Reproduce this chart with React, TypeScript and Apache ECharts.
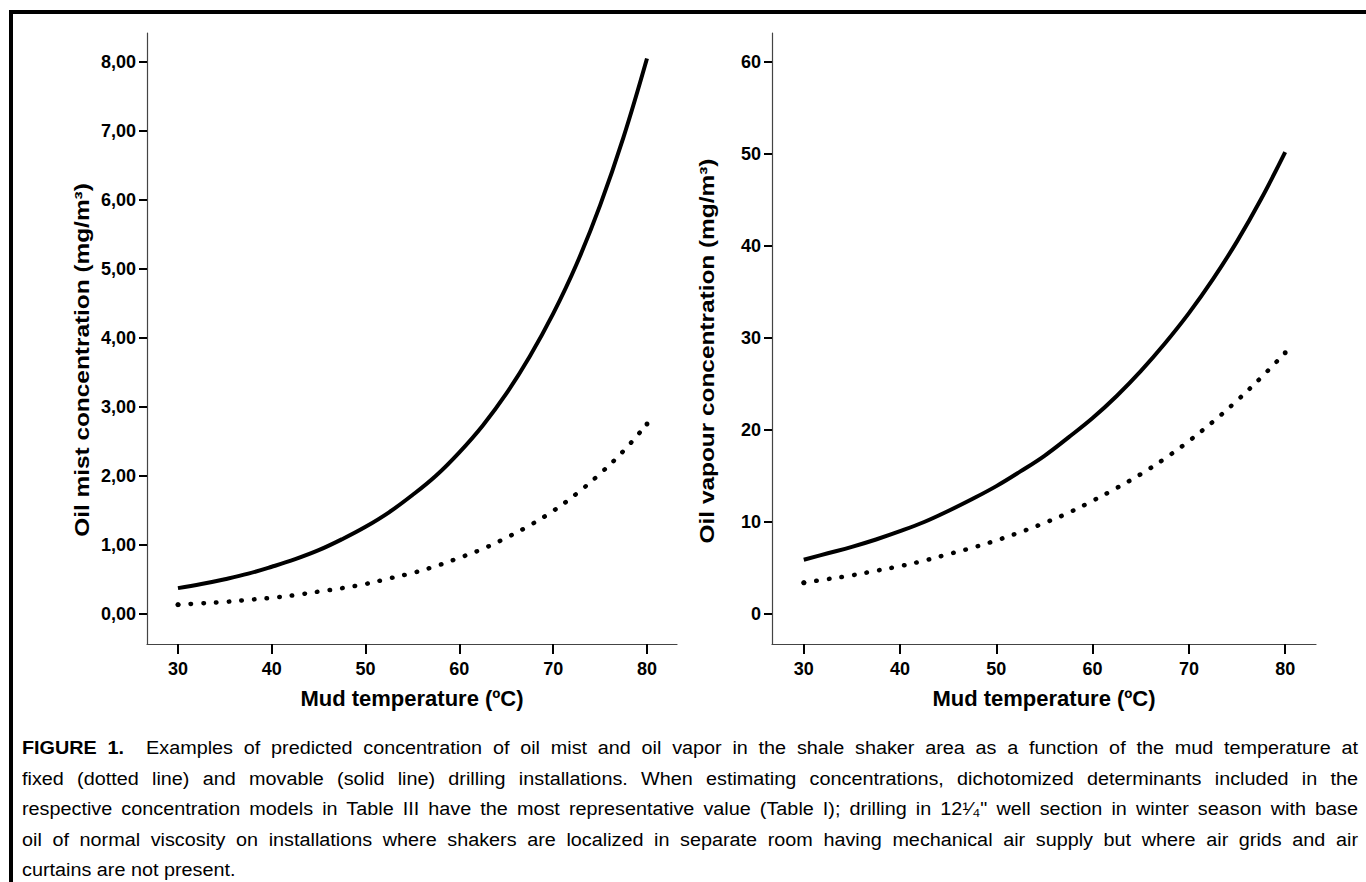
import React, { useEffect, useRef } from "react";
import * as echarts from "echarts";

// Mud temperature (°C)
const temps = [30, 32.5, 35, 37.5, 40, 42.5, 45, 47.5, 50, 52.5, 55, 57.5, 60, 62.5, 65, 67.5, 70, 72.5, 75, 77.5, 80];

// Oil mist concentration (mg/m³)
const mistMovable = [0.37, 0.43, 0.5, 0.58, 0.68, 0.79, 0.92, 1.08, 1.26, 1.47, 1.72, 2.0, 2.34, 2.73, 3.19, 3.73, 4.35, 5.07, 5.92, 6.91, 8.05];
const mistFixed = [0.13, 0.15, 0.17, 0.2, 0.23, 0.27, 0.32, 0.37, 0.43, 0.51, 0.59, 0.69, 0.81, 0.94, 1.1, 1.28, 1.49, 1.74, 2.03, 2.36, 2.75];

// Oil vapour concentration (mg/m³)
const vapourMovable = [5.9, 6.6, 7.3, 8.1, 9.0, 10.0, 11.2, 12.5, 13.9, 15.5, 17.2, 19.2, 21.3, 23.7, 26.4, 29.4, 32.7, 36.4, 40.5, 45.1, 50.2];
const vapourFixed = [3.4, 3.8, 4.2, 4.7, 5.2, 5.8, 6.5, 7.2, 8.0, 8.9, 9.9, 11.0, 12.3, 13.7, 15.2, 16.9, 18.8, 20.9, 23.2, 25.7, 28.4];

// Tick values
const xTicks = [30, 40, 50, 60, 70, 80];
const mistTicks = [0, 1, 2, 3, 4, 5, 6, 7, 8];
const vapourTicks = [0, 10, 20, 30, 40, 50, 60];

const xTitle = "Mud temperature (ºC)";
const mistTitle = "Oil mist concentration (mg/m³)";
const vapourTitle = "Oil vapour concentration (mg/m³)";

const captionLines = [
  "Examples of predicted concentration of oil mist and oil vapor in the shale shaker area as a function of the mud temperature at",
  "fixed (dotted line) and movable (solid line) drilling installations. When estimating concentrations, dichotomized determinants included in the",
  "respective concentration models in Table III have the most representative value (Table I); drilling in 12¹⁄₄\" well section in winter season with base",
  "oil of normal viscosity on installations where shakers are localized in separate room having mechanical air supply but where air grids and air",
  "curtains are not present.",
];

const FONT = "'Liberation Sans', Arial, Helvetica, sans-serif";
const CAPTION_SCALE = 1.1;

const pairs = (ys: number[]) => temps.map((t, i) => [t, ys[i]]);

export default function App() {
  const ref = useRef<HTMLDivElement>(null);

  useEffect(() => {
    if (!ref.current) return;
    const chart = echarts.init(ref.current, null, { renderer: "svg" });

    const xAxisBase = (gridIndex: number) => ({
      type: "value",
      gridIndex,
      min: 26.7,
      max: 83.2,
      name: xTitle,
      nameLocation: "middle",
      nameGap: 43,
      nameTextStyle: { fontFamily: FONT, fontWeight: "bold", fontSize: 22, color: "#000" },
      axisLine: { show: true, onZero: false, lineStyle: { color: "#444", width: 1.2 } },
      axisTick: { show: true, length: 10, customValues: xTicks, lineStyle: { color: "#000", width: 2 } },
      axisLabel: {
        customValues: xTicks,
        margin: 16,
        fontFamily: FONT,
        fontWeight: "bold",
        fontSize: 18,
        color: "#000",
      },
      splitLine: { show: false },
    });

    const yAxisBase = (gridIndex: number, min: number, max: number, ticks: number[], fmt: (v: number) => string) => ({
      type: "value",
      gridIndex,
      min,
      max,
      axisLine: { show: true, onZero: false, lineStyle: { color: "#444", width: 1.2 } },
      axisTick: { show: true, length: 8, customValues: ticks, lineStyle: { color: "#000", width: 2 } },
      axisLabel: {
        customValues: ticks,
        margin: 11,
        formatter: fmt,
        fontFamily: FONT,
        fontWeight: "bold",
        fontSize: 18,
        color: "#000",
      },
      splitLine: { show: false },
    });

    const solid = { color: "#000", width: 4, type: "solid" };
    const dotted = { color: "#000", width: 4.5, type: [0.5, 12.2], cap: "round" };
    const endDots = (n: number) => (_v: any, p: any) => (p.dataIndex === 0 || p.dataIndex === n - 1 ? "circle" : "none");

    const yTitle = (text: string, x: number, y: number) => ({
      type: "text",
      x,
      y,
      rotation: Math.PI / 2,
      scaleX: 1.22,
      style: {
        text,
        align: "center",
        verticalAlign: "middle",
        fontFamily: FONT,
        fontWeight: "bold",
        fontSize: 20,
        fill: "#000",
      },
    });

    chart.setOption({
      animation: false,
      backgroundColor: "transparent",
      grid: [
        { left: 147, top: 33, width: 530, height: 611 },
        { left: 772, top: 33, width: 544, height: 611 },
      ],
      xAxis: [xAxisBase(0), xAxisBase(1)],
      yAxis: [
        yAxisBase(0, -0.44, 8.42, mistTicks, (v: number) => v.toFixed(2).replace(".", ",")),
        yAxisBase(1, -3.26, 63.15, vapourTicks, (v: number) => String(v)),
      ],
      graphic: [yTitle(mistTitle, 82, 360), yTitle(vapourTitle, 707, 351)],
      series: [
        { name: "Movable (mist)", type: "line", xAxisIndex: 0, yAxisIndex: 0, data: pairs(mistMovable), smooth: 0.4, symbol: "none", lineStyle: solid },
        {
          name: "Fixed (mist)", type: "line", xAxisIndex: 0, yAxisIndex: 0, data: pairs(mistFixed), smooth: 0.4,
          symbol: endDots(temps.length), symbolSize: 5, showAllSymbol: true, itemStyle: { color: "#000", borderWidth: 0 }, lineStyle: dotted,
        },
        { name: "Movable (vapour)", type: "line", xAxisIndex: 1, yAxisIndex: 1, data: pairs(vapourMovable), smooth: 0.4, symbol: "none", lineStyle: solid },
        {
          name: "Fixed (vapour)", type: "line", xAxisIndex: 1, yAxisIndex: 1, data: pairs(vapourFixed), smooth: 0.4,
          symbol: endDots(temps.length), symbolSize: 5, showAllSymbol: true, itemStyle: { color: "#000", borderWidth: 0 }, lineStyle: dotted,
        },
      ],
    });

    return () => chart.dispose();
  }, []);

  return (
    <div style={{ position: "fixed", left: 0, top: 0, width: 1366, height: 882, background: "#fff", overflow: "hidden" }}>
      <div
        style={{
          position: "absolute",
          left: 9,
          top: 10,
          width: 1400,
          height: 900,
          borderTop: "4px solid #000",
          borderLeft: "4px solid #000",
          boxSizing: "border-box",
        }}
      />
      <div ref={ref} style={{ position: "absolute", left: 0, top: 0, width: 1366, height: 730 }} />
      <div
        style={{
          position: "absolute",
          left: 22,
          top: 733,
          width: 1336 / CAPTION_SCALE,
          transform: `scaleX(${CAPTION_SCALE})`,
          transformOrigin: "0 0",
          fontFamily: FONT,
          fontSize: 18,
          lineHeight: "30.5px",
          color: "#000",
        }}
      >
        {captionLines.map((line, i) => (
          <div
            key={i}
            style={{
              whiteSpace: "nowrap",
              textAlign: "justify",
              textAlignLast: i < captionLines.length - 1 ? "justify" : "left",
            } as React.CSSProperties}
          >
            {i === 0 ? (
              <>
                <b>FIGURE 1.</b>
                <span style={{ display: "inline-block", width: 20 }} />
              </>
            ) : null}
            {line}
          </div>
        ))}
      </div>
    </div>
  );
}
